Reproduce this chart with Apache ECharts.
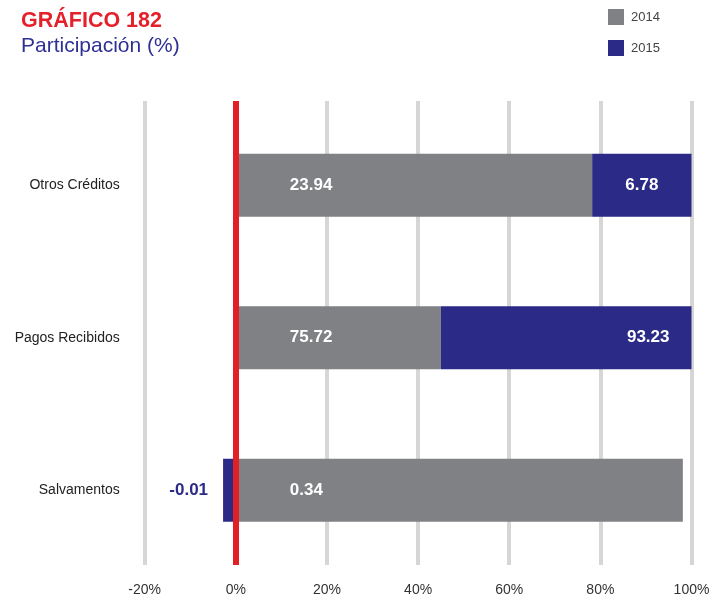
<!DOCTYPE html>
<html>
<head>
<meta charset="utf-8">
<script src="https://cdn.jsdelivr.net/npm/echarts@6/dist/echarts.min.js"></script>
<style>html,body{margin:0;padding:0;background:#fff}#c{width:716px;height:601px}</style>
</head>
<body>
<div id="c"></div>
<script>
// ---- data ----
const categories = ['Otros Créditos', 'Pagos Recibidos', 'Salvamentos'];
const years = ['2014', '2015'];
// bar shares (% of row, 100% stacked)
const share2014 = [78.2, 45.0, 98.1];
const share2015 = [21.8, 55.0, -2.8];
// printed data labels
const label2014 = [23.94, 75.72, 0.34];
const label2015 = [6.78, 93.23, -0.01];
// x axis ticks (%)
const xMin = -20, xMax = 100, xStep = 20;

// ---- styles ----
const FONT = '"Liberation Sans", Arial, sans-serif';
const GRAY = '#808184';
const BLUE = '#2b2a86';
const RED = '#e31e24';

const label2015Styles = [
  { position: 'inside' },
  { position: 'insideRight', distance: 22 },
  { position: 'left', distance: 15, color: BLUE }
];

const chart = echarts.init(document.getElementById('c'), null, { renderer: 'canvas' });
chart.setOption({
  animation: false,
  backgroundColor: '#fff',
  textStyle: { fontFamily: FONT },
  title: [
    { text: 'GRÁFICO 182', left: 21, top: 10, padding: 0,
      textStyle: { color: '#e4202a', fontSize: 21.5, fontWeight: 'bold', fontFamily: FONT } },
    { text: 'Participación (%)', left: 21, top: 36, padding: 0,
      textStyle: { color: '#2e3192', fontSize: 21, fontWeight: 'normal', fontFamily: FONT } }
  ],
  legend: {
    data: years, orient: 'vertical', left: 608, top: 9, padding: 0,
    itemWidth: 16, itemHeight: 16, itemGap: 15, icon: 'rect',
    textStyle: { fontSize: 13, color: '#444', fontFamily: FONT, padding: [0, 0, 0, 2] }
  },
  grid: [
    { left: 144.7, right: 24.5, top: 101, bottom: 36 },
    { left: 144.7, right: 24.5, top: 109, bottom: 34.5 }
  ],
  xAxis: [
    { gridIndex: 0, type: 'value', min: xMin, max: xMax, interval: xStep,
      axisLine: { show: false }, axisTick: { show: false },
      splitLine: { show: true, lineStyle: { color: '#d6d6d6', width: 4 } },
      axisLabel: { formatter: '{value}%', fontSize: 14, color: '#333', margin: 18, fontFamily: FONT } },
    { gridIndex: 1, type: 'value', min: xMin, max: xMax, interval: xStep, show: false,
      splitLine: { show: false } }
  ],
  yAxis: [
    { gridIndex: 0, type: 'category', data: categories, inverse: true, z: 10,
      axisLine: { show: true, onZero: true, lineStyle: { color: RED, width: 6, cap: 'butt' } },
      axisTick: { show: false }, axisLabel: { show: false }, splitLine: { show: false } },
    { gridIndex: 1, type: 'category', data: categories, inverse: true,
      axisLine: { show: false }, axisTick: { show: false }, splitLine: { show: false },
      axisLabel: { fontSize: 14, color: '#222', margin: 25, fontFamily: FONT } }
  ],
  series: [
    {
      name: years[0], type: 'bar', stack: 'total', xAxisIndex: 1, yAxisIndex: 1,
      barWidth: 63, itemStyle: { color: GRAY },
      label: {
        show: true, position: 'insideLeft', distance: 54, color: '#fff',
        fontSize: 17, fontWeight: 'bold', fontFamily: FONT,
        formatter: p => label2014[p.dataIndex].toFixed(2)
      },
      data: share2014.map(v => ({ value: v }))
    },
    {
      name: years[1], type: 'bar', stack: 'total', xAxisIndex: 1, yAxisIndex: 1,
      barWidth: 63, itemStyle: { color: BLUE },
      label: {
        show: true, color: '#fff', fontSize: 17, fontWeight: 'bold', fontFamily: FONT,
        formatter: p => label2015[p.dataIndex].toFixed(2)
      },
      data: share2015.map((v, i) => ({ value: v, label: label2015Styles[i] }))
    }
  ]
});
</script>
</body>
</html>
